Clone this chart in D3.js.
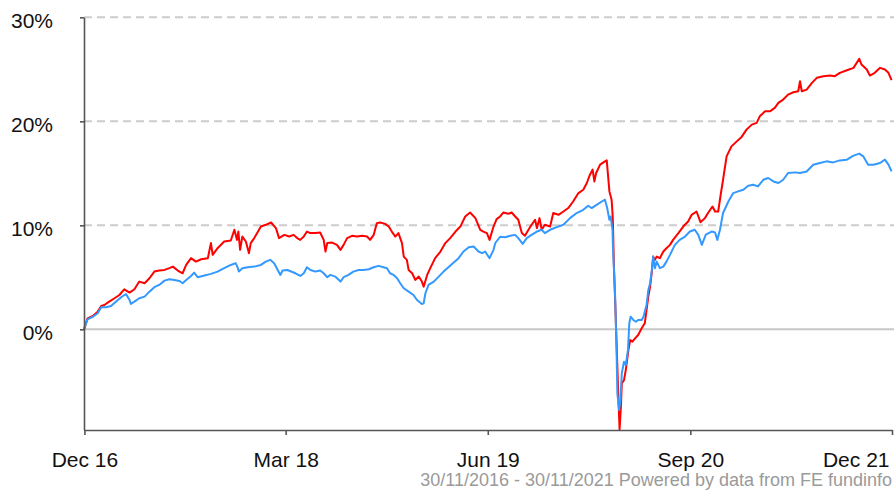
<!DOCTYPE html>
<html>
<head>
<meta charset="utf-8">
<script src="https://cdn.jsdelivr.net/npm/d3@7"></script>
<style>
  body { margin: 0; background: #fff; }
  svg { display: block; }
  text { font-family: Arial, "Liberation Sans", sans-serif; }
</style>
</head>
<body>
<svg id="chart" width="894" height="490"></svg>
<script>
// Cumulative performance (%) of the fund (red) and its sector average (blue)
const fundDates = [
  "2016-11-30","2016-12-08","2016-12-20","2016-12-31","2017-01-08","2017-01-15","2017-01-26","2017-02-07","2017-02-18","2017-03-01",
  "2017-03-13","2017-03-24","2017-04-04","2017-04-16","2017-04-27","2017-05-08","2017-05-19","2017-05-31","2017-06-11","2017-06-19",
  "2017-06-30","2017-07-11","2017-07-19","2017-07-30","2017-08-10","2017-08-22","2017-09-06","2017-09-13","2017-09-17","2017-09-28",
  "2017-10-13","2017-10-28","2017-11-05","2017-11-11","2017-11-14","2017-11-18","2017-11-23","2017-12-01","2017-12-08","2017-12-12",
  "2017-12-20","2018-01-04","2018-01-15","2018-01-27","2018-02-07","2018-02-14","2018-02-26","2018-03-09","2018-03-19","2018-03-27",
  "2018-04-03","2018-04-11","2018-04-18","2018-04-26","2018-05-07","2018-05-18","2018-05-26","2018-05-30","2018-06-03","2018-06-14",
  "2018-06-25","2018-07-03","2018-07-10","2018-07-18","2018-07-29","2018-08-09","2018-08-21","2018-09-01","2018-09-08","2018-09-16",
  "2018-09-23","2018-10-01","2018-10-12","2018-10-20","2018-10-27","2018-11-04","2018-11-11","2018-11-19","2018-11-23","2018-11-30",
  "2018-12-04","2018-12-12","2018-12-19","2018-12-27","2019-01-03","2019-01-07","2019-01-15","2019-01-22","2019-02-02","2019-02-14",
  "2019-02-25","2019-03-08","2019-03-20","2019-03-31","2019-04-11","2019-04-22","2019-05-04","2019-05-15","2019-05-22","2019-05-30",
  "2019-06-05","2019-06-14","2019-06-21","2019-06-29","2019-07-06","2019-07-18","2019-07-25","2019-08-02","2019-08-09","2019-08-17",
  "2019-08-24","2019-09-01","2019-09-08","2019-09-16","2019-09-20","2019-09-26","2019-10-01","2019-10-08","2019-10-20","2019-10-27",
  "2019-11-08","2019-11-19","2019-11-30","2019-12-11","2019-12-23","2020-01-03","2020-01-11","2020-01-18","2020-01-24","2020-01-28",
  "2020-02-01","2020-02-10","2020-02-21","2020-02-25","2020-03-02","2020-03-07","2020-03-09","2020-03-10","2020-03-12","2020-03-16",
  "2020-03-19","2020-03-22","2020-03-25","2020-03-28","2020-03-30","2020-04-04","2020-04-08","2020-04-14","2020-04-18","2020-04-23",
  "2020-04-29","2020-05-06","2020-05-14","2020-05-21","2020-05-25","2020-05-29","2020-06-02","2020-06-06","2020-06-09","2020-06-13",
  "2020-06-17","2020-06-24","2020-07-02","2020-07-09","2020-07-17","2020-07-24","2020-08-05","2020-08-16","2020-08-27","2020-09-04",
  "2020-09-15","2020-09-24","2020-10-04","2020-10-11","2020-10-21","2020-10-27","2020-11-03","2020-11-08","2020-11-14","2020-11-22",
  "2020-12-03","2020-12-15","2020-12-26","2021-01-06","2021-01-18","2021-01-29","2021-02-05","2021-02-17","2021-02-28","2021-03-11",
  "2021-03-19","2021-03-30","2021-04-10","2021-04-22","2021-05-03","2021-05-07","2021-05-11","2021-05-22","2021-06-03","2021-06-14",
  "2021-06-29","2021-07-14","2021-07-25","2021-08-05","2021-08-21","2021-09-05","2021-09-18","2021-09-23","2021-10-05","2021-10-12",
  "2021-10-23","2021-11-04","2021-11-15","2021-11-23","2021-11-30"
];
const fundReturns = [
  0, 1.06, 1.28, 1.70, 2.24, 2.34, 2.66, 2.99, 3.30, 3.85,
  3.53, 3.85, 4.59, 4.43, 4.91, 5.55, 5.65, 5.71, 5.88, 6.03,
  5.65, 5.39, 6.19, 6.84, 6.51, 6.74, 6.84, 8.29, 7.16, 7.80,
  8.44, 8.54, 9.57, 8.60, 9.40, 7.64, 8.92, 8.44, 7.32, 8.29,
  8.77, 9.88, 10.05, 10.27, 9.73, 8.77, 9.08, 8.92, 9.08, 8.77,
  8.60, 8.92, 9.40, 9.25, 9.25, 9.31, 8.60, 7.48, 8.29, 8.34,
  8.12, 7.64, 8.12, 8.77, 8.99, 8.92, 8.99, 8.92, 8.60, 9.08,
  10.21, 10.27, 10.14, 9.88, 9.40, 8.92, 9.25, 8.29, 6.99, 6.68,
  5.71, 5.39, 4.75, 5.07, 4.59, 4.10, 5.23, 5.88, 6.84, 7.48,
  8.29, 8.77, 9.40, 9.88, 10.85, 11.23, 10.69, 9.57, 9.40, 9.25,
  8.60, 9.88, 10.60, 10.85, 11.23, 11.11, 11.23, 10.85, 10.53, 9.25,
  8.99, 9.57, 10.05, 10.53, 9.73, 10.69, 9.57, 10.05, 9.88, 11.18,
  11.01, 11.33, 11.66, 12.29, 13.10, 13.42, 14.07, 14.87, 15.35, 14.22,
  15.03, 15.83, 16.15, 16.24, 13.26, 12.46, 11.18, 10.21, 6.36, 1.54,
  -2.31, -6.17, -9.62, -7.46, -5.20, -4.88, -3.92, -1.99, -1.03, -1.19,
  -0.87, -0.55, 0.10, 0.58, 1.86, 3.14, 4.10, 5.55, 6.99, 6.68,
  6.99, 6.84, 7.48, 7.80, 8.12, 8.60, 9.25, 9.88, 10.37, 11.01,
  11.33, 10.30, 10.69, 11.18, 11.81, 11.33, 11.33, 12.77, 14.38, 16.63,
  17.59, 18.07, 18.50, 19.20, 19.68, 19.85, 20.48, 20.96, 20.96, 21.29,
  21.77, 22.09, 22.57, 22.79, 22.89, 23.85, 22.89, 23.05, 23.70, 24.18,
  24.34, 24.40, 24.34, 24.66, 24.91, 25.14, 26.01, 25.46, 24.98, 24.40,
  24.66, 25.14, 24.98, 24.66, 23.95
];

const sectorDates = [
  "2016-11-30","2016-12-08","2016-12-20","2016-12-31","2017-01-08","2017-01-19","2017-01-30","2017-02-10","2017-02-22","2017-03-05",
  "2017-03-13","2017-03-16","2017-03-24","2017-04-04","2017-04-16","2017-04-27","2017-05-08","2017-05-19","2017-05-31","2017-06-11",
  "2017-06-22","2017-07-04","2017-07-11","2017-07-19","2017-07-30","2017-08-06","2017-08-14","2017-08-25","2017-09-13","2017-09-28",
  "2017-10-13","2017-10-28","2017-11-08","2017-11-13","2017-11-15","2017-11-23","2017-12-05","2017-12-20","2018-01-04","2018-01-15",
  "2018-01-25","2018-02-03","2018-02-11","2018-02-17","2018-02-22","2018-03-05","2018-03-23","2018-04-03","2018-04-11","2018-04-18",
  "2018-04-26","2018-05-07","2018-05-18","2018-05-26","2018-06-03","2018-06-10","2018-06-21","2018-07-03","2018-07-10","2018-07-21",
  "2018-08-01","2018-08-13","2018-08-24","2018-09-05","2018-09-16","2018-09-27","2018-10-08","2018-10-16","2018-10-23","2018-10-31",
  "2018-11-08","2018-11-15","2018-11-23","2018-12-04","2018-12-15","2018-12-23","2019-01-03","2019-01-07","2019-01-11","2019-01-18",
  "2019-01-30","2019-02-10","2019-02-21","2019-03-04","2019-03-16","2019-03-27","2019-04-07","2019-04-19","2019-04-30","2019-05-11",
  "2019-05-19","2019-05-26","2019-06-05","2019-06-14","2019-06-18","2019-06-29","2019-07-10","2019-07-22","2019-08-02","2019-08-09",
  "2019-08-19","2019-08-28","2019-09-08","2019-09-20","2019-10-01","2019-10-08","2019-10-20","2019-11-04","2019-11-19","2019-12-04",
  "2019-12-19","2020-01-03","2020-01-14","2020-01-22","2020-02-02","2020-02-14","2020-02-21","2020-02-26","2020-03-02","2020-03-05",
  "2020-03-09","2020-03-10","2020-03-15","2020-03-18","2020-03-20","2020-03-24","2020-03-27","2020-03-30","2020-04-04","2020-04-08",
  "2020-04-13","2020-04-16","2020-04-19","2020-04-25","2020-05-01","2020-05-06","2020-05-14","2020-05-18","2020-05-21","2020-05-25",
  "2020-05-29","2020-06-02","2020-06-06","2020-06-09","2020-06-13","2020-06-17","2020-06-24","2020-07-02","2020-07-09","2020-07-17",
  "2020-07-28","2020-08-08","2020-08-20","2020-08-31","2020-09-11","2020-09-19","2020-09-27","2020-10-06","2020-10-19","2020-10-27",
  "2020-11-01","2020-11-07","2020-11-14","2020-11-26","2020-12-07","2020-12-18","2020-12-30","2021-01-10","2021-01-21","2021-02-01",
  "2021-02-13","2021-02-24","2021-03-08","2021-03-19","2021-03-30","2021-04-10","2021-04-26","2021-05-07","2021-05-22","2021-06-06",
  "2021-06-21","2021-07-06","2021-07-21","2021-08-05","2021-08-21","2021-09-05","2021-09-18","2021-09-27","2021-10-08","2021-10-20",
  "2021-11-04","2021-11-15","2021-11-23","2021-11-30"
];
const sectorReturns = [
  0, 0.96, 1.21, 1.54, 2.12, 2.12, 2.24, 2.66, 3.08, 3.40,
  2.82, 2.44, 2.66, 2.99, 3.14, 3.62, 4.05, 4.27, 4.68, 4.82,
  4.75, 4.65, 4.43, 4.75, 5.13, 5.45, 5.01, 5.13, 5.33, 5.55,
  5.88, 6.19, 6.36, 5.88, 5.55, 5.88, 5.97, 6.03, 6.19, 6.51,
  6.68, 6.36, 5.71, 5.23, 5.65, 5.70, 5.39, 5.13, 5.39, 5.97,
  5.71, 5.55, 5.65, 5.39, 5.01, 5.23, 5.07, 4.59, 5.01, 5.23,
  5.55, 5.71, 5.71, 5.78, 5.97, 6.10, 5.97, 5.88, 5.39, 5.23,
  4.91, 4.43, 3.95, 3.62, 3.30, 2.82, 2.44, 2.50, 3.47, 4.27,
  4.59, 5.07, 5.55, 5.97, 6.42, 6.84, 7.48, 7.90, 7.96, 7.48,
  7.32, 7.48, 6.84, 7.64, 8.30, 8.90, 8.86, 8.99, 9.08, 8.77,
  8.22, 8.77, 9.08, 9.40, 9.57, 9.25, 9.57, 9.83, 10.05, 10.69,
  11.18, 11.49, 11.88, 11.66, 11.97, 12.29, 12.46, 11.66, 10.53, 10.85,
  9.57, 7.96, 3.14, -1.68, -6.17, -7.77, -6.81, -4.24, -3.12, -3.44,
  -1.99, 0.58, 1.21, 0.90, 0.73, 0.90, 0.90, 1.21, 1.70, 2.34,
  3.79, 4.43, 5.71, 6.99, 5.88, 6.51, 5.88, 6.03, 6.51, 7.16,
  8.12, 8.60, 8.92, 9.40, 9.57, 9.08, 8.12, 9.10, 9.40, 9.31,
  8.60, 9.57, 11.18, 12.29, 13.10, 13.26, 13.42, 13.81, 13.90, 13.74,
  14.38, 14.55, 14.22, 14.07, 14.38, 15.03, 15.09, 15.03, 15.18, 15.83,
  15.99, 16.15, 16.05, 16.24, 16.31, 16.70, 16.89, 16.63, 15.83, 15.83,
  15.99, 16.31, 15.83, 15.18
];

const yTickValues = [0, 10, 20, 30];
const xTickDates = ["2016-12-01", "2018-03-01", "2019-06-01", "2020-09-01", "2021-12-01"];
const footnote = "30/11/2016 - 30/11/2021 Powered by data from FE fundinfo";

const parse = d3.utcParse("%Y-%m-%d");
const svg = d3.select("#chart");

const plotLeft = 84, plotRight = 892, plotTop = 17.3, plotBottom = 430;

const x = d3.scaleUtc()
  .domain([parse("2016-11-30"), parse("2021-12-01")])
  .range([plotLeft, plotRight]);
const y = d3.scaleLinear()
  .domain([-9.68, 30])
  .range([plotBottom, plotTop]);

// Horizontal grid: dashed above zero, solid zero line
svg.append("g")
  .selectAll("line")
  .data(yTickValues)
  .join("line")
  .attr("x1", plotLeft)
  .attr("x2", 894)
  .attr("y1", d => y(d))
  .attr("y2", d => y(d))
  .attr("stroke", d => d === 0 ? "#c8c8c8" : "#cccccc")
  .attr("stroke-width", 2)
  .attr("stroke-dasharray", d => d === 0 ? null : "8,5");

// Series
const zip = (dates, vals) => dates.map((d, i) => ({ date: parse(d), value: vals[i] }));
const line = d3.line()
  .x(d => x(d.date))
  .y(d => y(d.value))
  .curve(d3.curveLinear);

svg.append("path")
  .datum(zip(fundDates, fundReturns))
  .attr("fill", "none")
  .attr("stroke", "#ff0000")
  .attr("stroke-width", 2)
  .attr("stroke-linejoin", "round")
  .attr("d", line);

svg.append("path")
  .datum(zip(sectorDates, sectorReturns))
  .attr("fill", "none")
  .attr("stroke", "#3399ff")
  .attr("stroke-width", 2)
  .attr("stroke-linejoin", "round")
  .attr("d", line);

// Y axis
const yAxis = svg.append("g")
  .attr("transform", `translate(${plotLeft},0)`)
  .call(d3.axisLeft(y)
    .tickValues(yTickValues)
    .tickSize(4)
    .tickSizeOuter(0)
    .tickPadding(27)
    .tickFormat(d => d + "%"));

// X axis
const xAxis = svg.append("g")
  .attr("transform", `translate(0,${plotBottom})`)
  .call(d3.axisBottom(x)
    .tickValues(xTickDates.map(parse))
    .tickSize(5)
    .tickSizeOuter(0)
    .tickPadding(17)
    .tickFormat(d3.utcFormat("%b %y")));

[yAxis, xAxis].forEach(g => {
  g.select(".domain").attr("stroke", "#555").attr("stroke-width", 1.6);
  g.selectAll(".tick line").attr("stroke", "#555").attr("stroke-width", 1.6);
  g.selectAll(".tick text")
    .attr("fill", "#111")
    .style("font-size", "21px")
    .style("font-family", "Arial, 'Liberation Sans', sans-serif");
});
yAxis.selectAll(".tick text").attr("dy", "0.48em");

// Keep the last date label inside the canvas
xAxis.selectAll(".tick text")
  .filter((d, i, nodes) => i === nodes.length - 1)
  .attr("text-anchor", "end")
  .attr("x", -3);

// Source line
svg.append("text")
  .attr("x", 892)
  .attr("y", 485.5)
  .attr("text-anchor", "end")
  .attr("fill", "#9a9a9a")
  .style("font-size", "18px")
  .text(footnote);
</script>
</body>
</html>
